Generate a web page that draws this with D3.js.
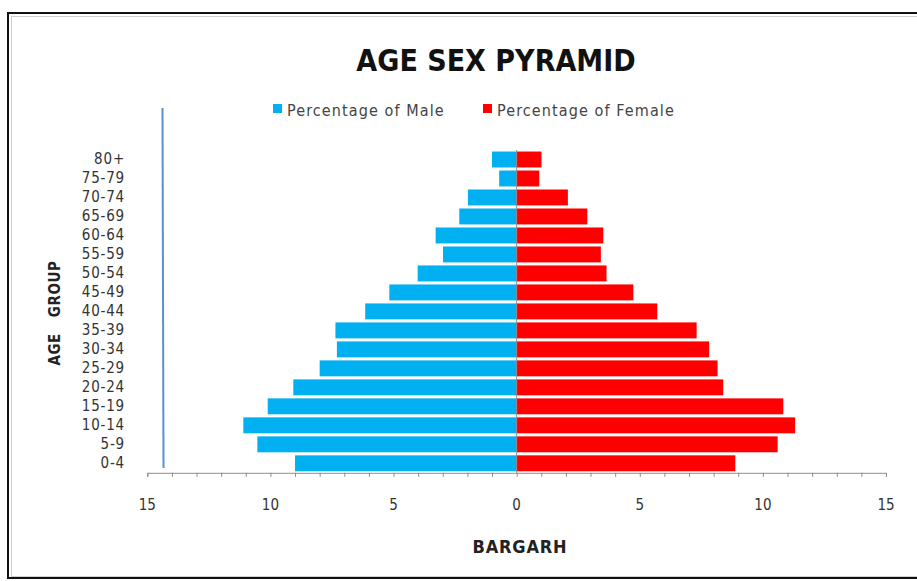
<!DOCTYPE html>
<html><head><meta charset="utf-8">
<script src="https://cdn.jsdelivr.net/npm/d3@7"></script>
<style>
body{margin:0;background:#fff;}
svg{display:block;}
text{font-family:"Liberation Sans Narrow","DejaVu Sans Condensed","Liberation Sans",sans-serif;}
</style></head>
<body>
<svg id="c" width="917" height="581"></svg>
<script>
const ageGroups = ["0-4","5-9","10-14","15-19","20-24","25-29","30-34","35-39","40-44","45-49","50-54","55-59","60-64","65-69","70-74","75-79","80+"];
const male   = [9.0,10.53,11.1,10.11,9.07,8.0,7.3,7.36,6.15,5.17,4.02,2.99,3.29,2.33,1.98,0.71,1.0];
const female = [8.88,10.6,11.31,10.83,8.39,8.16,7.82,7.31,5.71,4.74,3.65,3.42,3.52,2.87,2.08,0.92,1.01];
const xTicks = [-15,-10,-5,0,5,10,15];
const seriesNames = ["Percentage of Male","Percentage of Female"];
const colors = ["#00b0f0","#ff0000"];

const svg = d3.select("#c");

// frame
svg.append("rect").attr("x",8).attr("y",13).attr("width",930).attr("height",565)
  .attr("fill","none").attr("stroke","#111").attr("stroke-width",2);
svg.append("rect").attr("x",11.5).attr("y",16.5).attr("width",930).attr("height",560)
  .attr("fill","none").attr("stroke","#d0d0d0").attr("stroke-width",1);

const x = d3.scaleLinear().domain([-15,15]).range([147.3,886]);
const y = d3.scaleBand().domain(ageGroups).range([472.8,150]).paddingInner(0.16).paddingOuter(0.08);

// bars
const g = svg.append("g");
g.selectAll(".m").data(ageGroups).join("rect").attr("class","m")
  .attr("x",(d,i)=>x(-male[i])).attr("width",(d,i)=>x(0)-x(-male[i]))
  .attr("y",d=>y(d)).attr("height",y.bandwidth()).attr("fill",colors[0]);
g.selectAll(".f").data(ageGroups).join("rect").attr("class","f")
  .attr("x",x(0)).attr("width",(d,i)=>x(female[i])-x(0))
  .attr("y",d=>y(d)).attr("height",y.bandwidth()).attr("fill",colors[1]);

// zero line
svg.append("line").attr("x1",x(0)).attr("x2",x(0)).attr("y1",150).attr("y2",472.8)
  .attr("stroke","#8c8c8c").attr("stroke-width",1);

// x axis
const xa = svg.append("g").attr("transform","translate(0,472.8)")
  .call(d3.axisBottom(x).tickValues(d3.range(-15,16,1)).tickSize(4).tickFormat(""));
xa.select(".domain").attr("stroke","#8c8c8c");
xa.selectAll(".tick line").attr("stroke","#8c8c8c");
svg.append("g").selectAll("text").data(xTicks).join("text")
  .attr("x",d=>x(d)).attr("y",510).attr("text-anchor","middle")
  .attr("font-size",15).attr("fill","#333").text(d=>Math.abs(d));

// y labels
const ya = svg.append("g").attr("transform","translate(125,0)")
  .call(d3.axisLeft(y).tickSize(0).tickPadding(0));
ya.select(".domain").remove();
ya.selectAll("text").attr("font-size",15).attr("fill","#333").attr("letter-spacing",0.8)
  .attr("font-family",'"Liberation Sans Narrow","DejaVu Sans Condensed",sans-serif');

// blue vertical line
svg.append("line").attr("x1",162.5).attr("x2",163.5).attr("y1",108).attr("y2",468)
  .attr("stroke","#5b8fd0").attr("stroke-width",2);

// title
svg.append("text").attr("x",496).attr("y",71).attr("text-anchor","middle")
  .attr("font-size",30).attr("font-weight","bold").attr("fill","#111").text("AGE SEX PYRAMID");

// axis titles
svg.append("text").attr("x",520).attr("y",553).attr("text-anchor","middle")
  .attr("font-size",18).attr("font-weight","bold").attr("letter-spacing",0.8).attr("fill","#222").text("BARGARH");
svg.append("text").attr("transform","translate(60,313) rotate(-90)").attr("text-anchor","middle")
  .attr("font-size",15).attr("font-weight","bold").attr("letter-spacing",0.6).attr("fill","#222")
  .attr("xml:space","preserve").style("white-space","pre").text("AGE   GROUP");

// legend
const legX = [273,483];
const leg = svg.append("g");
seriesNames.forEach((n,i)=>{
  leg.append("rect").attr("x",legX[i]).attr("y",104).attr("width",9).attr("height",9).attr("fill",colors[i]);
  leg.append("text").attr("x",legX[i]+14).attr("y",116).attr("font-size",16).attr("letter-spacing",1.1)
    .attr("fill","#444").text(n);
});
</script>
</body></html>
